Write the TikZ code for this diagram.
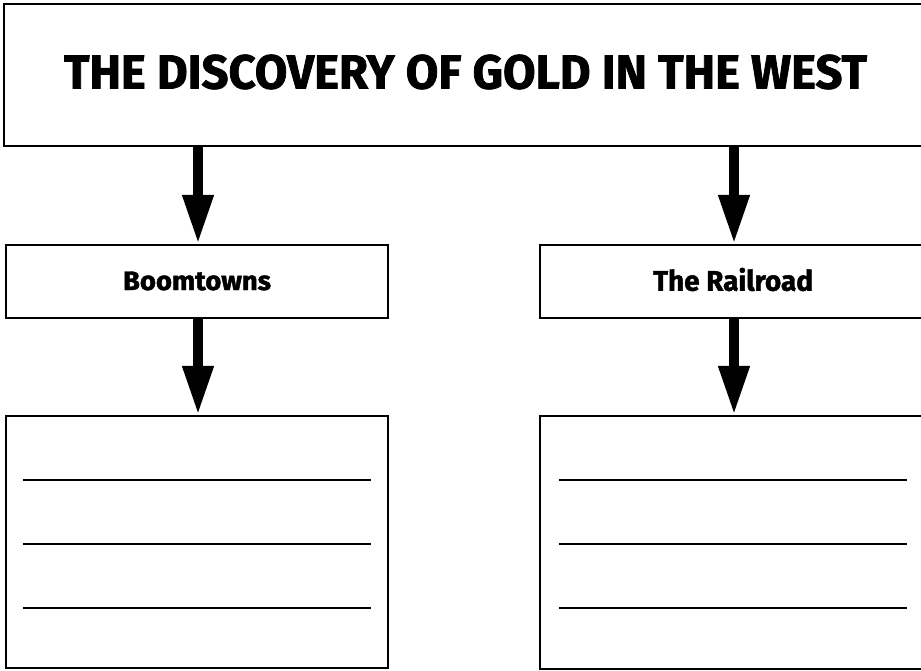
\documentclass[tikz,border=0pt]{standalone}
\usepackage{fontspec}
\setmainfont{Fira Sans}[BoldFeatures={FakeBold=1.6}]
\usepackage{graphicx}
\usetikzlibrary{arrows.meta}

\begin{document}
\begin{tikzpicture}[x=0.02cm,y=-0.02cm]
            \tikzset{box/.style = {shape=rectangle, draw, line width=1.2pt, inner sep=0pt}}
            \tikzset{flow/.style = {draw, line width=0.2cm, -{Triangle[length=0.98cm, width=0.58cm]}}}
            \tikzset{rule/.style = {draw, line width=0.6pt}}
            \useasboundingbox (0,0) rectangle (921,671);
            % boxes
            \node[box, minimum width=18.4cm, minimum height=2.84cm] (title) at (464,75) {};
            \node[box, minimum width=7.64cm, minimum height=1.46cm] (boom) at (197,281.5) {};
            \node[box, minimum width=7.68cm, minimum height=1.46cm] (rail) at (732,281.5) {};
            \node[box, minimum width=7.64cm, minimum height=5.04cm] (notesL) at (197,542) {};
            \node[box, minimum width=7.68cm, minimum height=5.06cm] (notesR) at (732,542.5) {};
            % labels
            \node[inner sep=0pt] (titletext) at (465.5,72) {\resizebox{16.06cm}{0.68cm}{\bfseries THE DISCOVERY OF GOLD IN THE WEST}};
            \node[inner sep=0pt] (boomtext) at (197,281) {\resizebox{2.96cm}{0.37cm}{\bfseries Boomtowns}};
            \node[inner sep=0pt] (railtext) at (733,279.5) {\resizebox{3.2cm}{0.46cm}{\bfseries The Railroad}};
            % arrows
            \draw[flow] (title.south -| 198,0) -- (boom.north -| 198,0);
            \draw[flow] (title.south -| 734,0) -- (rail.north -| 734,0);
            \draw[flow] (boom.south -| 198,0) -- (notesL.north -| 198,0);
            \draw[flow] (rail.south -| 734,0) -- (notesR.north -| 734,0);
            % writing lines
            \foreach \y in {480,544,608} {
                \draw[rule] (23,\y) -- (371,\y);
                \draw[rule] (559,\y) -- (907,\y);
            }
        \end{tikzpicture}
\end{document}
